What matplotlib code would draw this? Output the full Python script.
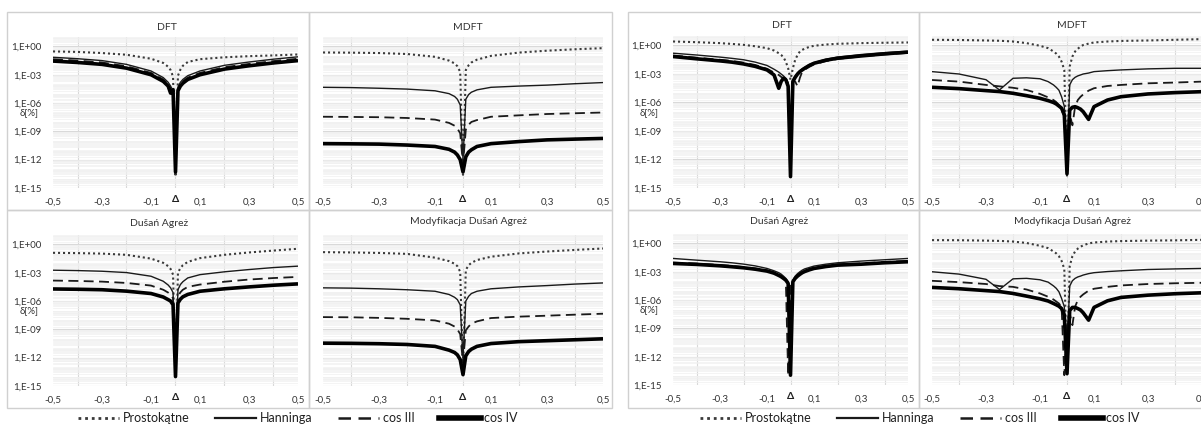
import numpy as np
import matplotlib
matplotlib.use("Agg")
import matplotlib.pyplot as plt
from matplotlib.lines import Line2D
from matplotlib.patches import Rectangle
from matplotlib.ticker import FixedLocator, NullFormatter

plt.rcParams['font.family'] = ['Lato', 'DejaVu Sans']

W, H = 1201, 426  # figure size in pixels

# Frequency offset (Δ) sample points
delta_left = [-0.5, -0.4, -0.3, -0.2, -0.1, -0.05, -0.03, -0.02, -0.01, 0.0,
              0.01, 0.02, 0.03, 0.05, 0.1, 0.2, 0.3, 0.4, 0.5]
delta_right = [-0.5, -0.4, -0.3, -0.25, -0.2, -0.15, -0.1, -0.07, -0.05, -0.04,
               -0.03, -0.02, -0.01, 0.0, 0.01, 0.02, 0.03, 0.04, 0.05, 0.06,
               0.08, 0.1, 0.15, 0.2, 0.3, 0.4, 0.5]

# log10 of δ[%], left block (a)
dft_a_rect = [-0.53, -0.58, -0.7, -0.88, -1.3, -1.75, -2.15, -2.5, -3.2, -13.8, -3.1, -2.45, -2.05, -1.65, -1.35, -1.15, -1.03, -0.95, -0.85]
dft_a_hann = [-1.15, -1.3, -1.5, -1.9, -2.6, -3.3, -3.8, -4.2, -4.7, -12.5, -4.3, -3.8, -3.5, -3.1, -2.6, -2.0, -1.65, -1.35, -1.1]
dft_a_cos3 = [-1.35, -1.5, -1.7, -2.1, -2.8, -3.5, -4.0, -4.4, -4.9, -12.0, -4.5, -4.0, -3.7, -3.3, -2.8, -2.2, -1.85, -1.55, -1.3]
dft_a_cos4 = [-1.55, -1.7, -1.9, -2.3, -3.0, -3.7, -4.2, -4.95, -4.6, -13.3, -4.7, -4.2, -3.9, -3.5, -3.0, -2.4, -2.05, -1.75, -1.5]

mdft_a_rect = [-0.64, -0.66, -0.7, -0.8, -1.1, -1.5, -1.8, -2.1, -2.7, -13.6, -2.5, -2.0, -1.7, -1.4, -1.0, -0.65, -0.45, -0.3, -0.18]
mdft_a_hann = [-4.33, -4.36, -4.43, -4.52, -4.7, -5.0, -5.3, -5.6, -6.2, -12.0, -5.6, -5.1, -4.85, -4.6, -4.33, -4.2, -4.1, -3.95, -3.83]
mdft_a_cos3 = [-7.45, -7.47, -7.5, -7.58, -7.75, -8.1, -8.4, -8.7, -9.2, -12.5, -8.8, -8.3, -8.0, -7.8, -7.45, -7.3, -7.16, -7.08, -7.0]
mdft_a_cos4 = [-10.3, -10.32, -10.35, -10.45, -10.6, -10.9, -11.2, -11.5, -12.0, -13.3, -11.7, -11.2, -10.95, -10.6, -10.3, -10.08, -9.9, -9.82, -9.75]

da_a_rect = [-0.89, -0.92, -0.97, -1.1, -1.5, -1.95, -2.3, -2.6, -3.2, -14.0, -3.0, -2.5, -2.2, -1.85, -1.45, -1.1, -0.85, -0.65, -0.46]
da_a_hann = [-2.73, -2.77, -2.84, -2.98, -3.37, -3.9, -4.3, -4.6, -5.1, -13.0, -4.8, -4.25, -3.95, -3.55, -3.2, -2.9, -2.66, -2.45, -2.3]
da_a_cos3 = [-3.83, -3.87, -3.94, -4.08, -4.36, -4.8, -5.1, -5.3, -5.7, -13.5, -5.5, -5.07, -4.8, -4.5, -4.25, -3.95, -3.72, -3.56, -3.44]
da_a_cos4 = [-4.72, -4.75, -4.8, -4.95, -5.2, -5.57, -5.85, -6.0, -6.4, -14.0, -6.2, -5.8, -5.55, -5.3, -4.96, -4.7, -4.5, -4.32, -4.18]

mda_a_rect = [-0.82, -0.85, -0.9, -1.0, -1.4, -1.77, -2.05, -2.3, -2.9, -13.7, -2.7, -2.2, -1.95, -1.65, -1.3, -0.95, -0.75, -0.58, -0.43]
mda_a_hann = [-4.6, -4.63, -4.7, -4.8, -4.96, -5.3, -5.6, -5.85, -6.4, -12.0, -6.0, -5.5, -5.2, -4.96, -4.7, -4.5, -4.36, -4.2, -4.08]
mda_a_cos3 = [-7.7, -7.72, -7.78, -7.88, -8.05, -8.4, -8.7, -9.0, -9.5, -12.5, -9.1, -8.7, -8.4, -8.15, -7.8, -7.65, -7.55, -7.44, -7.34]
mda_a_cos4 = [-10.46, -10.48, -10.52, -10.6, -10.8, -11.2, -11.45, -11.7, -12.2, -13.8, -11.8, -11.35, -11.1, -10.8, -10.5, -10.3, -10.2, -10.1, -10.0]

# log10 of δ[%], right block (b)
dft_b_rect = [0.42, 0.35, 0.25, 0.17, 0.07, -0.08, -0.28, -0.53, -0.81, -0.99, -1.23, -1.7, -2.4, -3.6, -2.4, -1.5, -1.0, -0.63, -0.46, -0.33, -0.15, -0.03, 0.1, 0.18, 0.25, 0.29, 0.32]
dft_b_hann = [-0.81, -1.0, -1.22, -1.35, -1.5, -1.75, -2.1, -2.5, -2.8, -3.0, -3.2, -3.45, -3.9, -12.5, -3.6, -3.2, -2.9, -2.65, -2.45, -2.3, -2.0, -1.8, -1.45, -1.22, -0.95, -0.75, -0.6]
dft_b_cos3 = [-1.05, -1.28, -1.5, -1.62, -1.8, -2.05, -2.45, -2.85, -3.1, -3.3, -3.45, -3.6, -3.9, -13.0, -3.75, -3.8, -4.3, -3.4, -2.75, -2.55, -2.25, -2.0, -1.65, -1.42, -1.15, -0.95, -0.78]
dft_b_cos4 = [-1.16, -1.4, -1.62, -1.75, -1.94, -2.2, -2.57, -3.1, -4.5, -3.8, -3.45, -3.6, -4.3, -13.8, -3.8, -3.35, -3.0, -2.75, -2.57, -2.4, -2.1, -1.87, -1.55, -1.34, -1.1, -0.88, -0.7]

mdft_b_rect = [0.6, 0.58, 0.53, 0.5, 0.42, 0.25, -0.03, -0.28, -0.63, -0.85, -1.16, -1.7, -2.57, -13.7, -2.2, -1.16, -0.63, -0.35, -0.1, 0.05, 0.2, 0.32, 0.42, 0.48, 0.53, 0.6, 0.67]
mdft_b_hann = [-2.75, -3.0, -3.6, -4.68, -3.45, -3.4, -3.5, -3.8, -4.15, -4.4, -4.7, -5.4, -6.4, -12.0, -4.15, -3.6, -3.35, -3.2, -3.1, -3.0, -2.9, -2.75, -2.65, -2.57, -2.46, -2.4, -2.4]
mdft_b_cos3 = [-3.63, -3.8, -4.15, -4.3, -4.45, -4.68, -5.1, -5.46, -5.74, -5.95, -6.27, -6.8, -7.5, -10.0, -7.2, -8.4, -6.44, -5.74, -5.4, -5.15, -4.75, -4.5, -4.26, -4.15, -3.98, -3.9, -3.8]
mdft_b_cos4 = [-4.4, -4.54, -4.75, -4.85, -5.03, -5.28, -5.56, -5.8, -6.0, -6.15, -6.37, -6.6, -7.3, -13.5, -6.8, -6.5, -6.44, -6.55, -6.7, -6.97, -7.78, -6.44, -5.74, -5.39, -5.1, -4.96, -4.86]

da_b_hann = [-1.59, -1.77, -1.94, -2.05, -2.19, -2.38, -2.65, -2.9, -3.1, -3.25, -3.46, -3.7, -4.06, -13.8, -3.9, -3.46, -3.2, -3.0, -2.83, -2.7, -2.55, -2.4, -2.2, -2.05, -1.87, -1.73, -1.59]
da_b_cos3 = [-2.03, -2.13, -2.28, -2.38, -2.5, -2.65, -2.85, -3.07, -3.3, -3.44, -3.62, -3.85, -13.96, -4.3, -4.0, -3.62, -3.38, -3.2, -3.02, -2.9, -2.72, -2.57, -2.37, -2.22, -2.12, -1.97, -1.86]
da_b_cos4 = [-2.12, -2.22, -2.37, -2.47, -2.58, -2.73, -2.93, -3.15, -3.39, -3.52, -3.7, -3.89, -4.24, -13.96, -4.06, -3.7, -3.46, -3.27, -3.1, -2.98, -2.8, -2.65, -2.45, -2.3, -2.2, -2.05, -1.94]
da_b_rect = list(da_b_cos4)  # hidden under cos IV in the picture

mda_b_rect = [0.35, 0.34, 0.3, 0.27, 0.2, 0.05, -0.25, -0.5, -0.85, -1.05, -1.35, -1.85, -2.7, -13.8, -2.4, -1.35, -0.85, -0.55, -0.35, -0.2, 0.0, 0.1, 0.2, 0.25, 0.3, 0.33, 0.38]
mda_b_hann = [-3.0, -3.25, -3.8, -4.88, -3.75, -3.7, -3.85, -4.1, -4.5, -4.75, -5.12, -5.83, -6.7, -11.0, -4.52, -3.95, -3.7, -3.55, -3.46, -3.35, -3.2, -3.1, -2.98, -2.9, -2.76, -2.7, -2.65]
mda_b_cos3 = [-3.96, -4.1, -4.3, -4.52, -4.6, -4.88, -5.3, -5.65, -5.94, -6.15, -6.36, -6.7, -13.96, -8.8, -7.4, -8.66, -6.7, -6.0, -5.65, -5.4, -5.0, -4.8, -4.6, -4.45, -4.3, -4.22, -4.17]
mda_b_cos4 = [-4.66, -4.8, -5.0, -5.1, -5.3, -5.58, -5.87, -6.1, -6.36, -6.5, -6.65, -6.9, -7.6, -13.8, -7.1, -6.78, -6.78, -6.9, -7.05, -7.35, -8.13, -6.78, -6.08, -5.72, -5.48, -5.33, -5.23]

series_names = ["Prostokątne", "Hanninga", "cos III", "cos IV"]
x_ticks = [-0.5, -0.3, -0.1, 0.1, 0.3, 0.5]
x_labels = ["-0,5", "-0,3", "-0,1", "0,1", "0,3", "0,5"]
y_ticks = [1e0, 1e-3, 1e-6, 1e-9, 1e-12, 1e-15]
y_labels = ["1,E+00", "1,E-03", "1,E-06", "1,E-09", "1,E-12", "1,E-15"]

styles = [
    dict(color="#3a3a3a", lw=1.5, linestyle=(0, (1, 1.4))),
    dict(color="#1a1a1a", lw=1.0, linestyle="-"),
    dict(color="#1a1a1a", lw=1.3, linestyle=(0, (5.5, 3))),
    dict(color="#000000", lw=2.6, linestyle="-"),
]
text_col = "#333333"
frame_col = "#d0d0d0"

fig = plt.figure(figsize=(W / 100, H / 100), dpi=100)


def px_axes(x0, y0, x1, y1):
    # plot area given in pixels from the top-left corner
    return fig.add_axes([x0 / W, 1 - y1 / H, (x1 - x0) / W, (y1 - y0) / H])


def frame(x0, y0, x1, y1):
    fig.add_artist(Rectangle((x0 / W, 1 - y1 / H), (x1 - x0) / W, (y1 - y0) / H,
                             transform=fig.transFigure, fill=False,
                             edgecolor=frame_col, lw=1.0))


def panel(box, title, title_xy, delta, curves, ylabels):
    ax = px_axes(*box)
    ax.set_yscale("log")
    ax.set_xlim(-0.5, 0.5)
    ax.set_ylim(1e-15, 1e1)
    for vals, st in zip(curves, styles):
        ax.plot(delta, np.power(10.0, vals), solid_capstyle="butt", **st)
    for s in ax.spines.values():
        s.set_visible(False)
    ax.xaxis.set_major_locator(FixedLocator(x_ticks))
    ax.set_xticklabels(x_labels)
    ax.xaxis.set_minor_locator(FixedLocator(np.arange(-0.5, 0.51, 0.1)))
    ax.yaxis.set_major_locator(FixedLocator(y_ticks))
    ax.yaxis.set_minor_locator(FixedLocator(
        [m * 10.0 ** e for e in range(-15, 1) for m in range(1, 10)]))
    ax.yaxis.set_minor_formatter(NullFormatter())
    if ylabels:
        ax.set_yticklabels(y_labels)
        ax.annotate("δ[%]", xy=(0, 10 ** -7.05), xycoords=("axes fraction", "data"),
                    xytext=(-14, 0), textcoords="offset pixels",
                    ha="right", va="center", fontsize=7, color=text_col)
    else:
        ax.set_yticklabels([])
    ax.tick_params(which="both", length=0, labelsize=7, colors=text_col, pad=7)
    ax.tick_params(axis="y", pad=8)
    ax.grid(which="minor", axis="y", color="#f0f0f0", lw=0.5)
    ax.grid(which="major", axis="y", color="#d9d9d9", lw=0.8)
    ax.grid(which="minor", axis="x", color="#d9d9d9", lw=0.8)
    ax.set_axisbelow(True)
    ax.annotate("Δ", xy=(0, 0), xycoords=("data", "axes fraction"), xytext=(0, -7),
                textcoords="offset pixels", ha="center", va="top",
                fontsize=7.5, color="#202020", fontweight="bold")
    fig.text(title_xy[0] / W, 1 - title_xy[1] / H, title, ha="center", va="center",
             fontsize=7.5, color=text_col)
    return ax


# left block
frame(7, 12, 309, 210)
frame(309, 12, 612, 210)
frame(7, 210, 309, 408)
frame(309, 210, 612, 408)
panel((53, 37, 298, 188), "DFT", (167, 27), delta_left,
      [dft_a_rect, dft_a_hann, dft_a_cos3, dft_a_cos4], True)
panel((323, 37, 603, 188), "MDFT", (468, 27), delta_left,
      [mdft_a_rect, mdft_a_hann, mdft_a_cos3, mdft_a_cos4], False)
panel((53, 235, 298, 386), "Dušań Agreż", (159, 223), delta_left,
      [da_a_rect, da_a_hann, da_a_cos3, da_a_cos4], True)
panel((323, 235, 603, 386), "Modyfikacja Dušań Agreż", (468, 222), delta_left,
      [mda_a_rect, mda_a_hann, mda_a_cos3, mda_a_cos4], False)

# right block (cut off at the right edge)
frame(628, 12, 919, 210)
frame(919, 12, 1230, 210)
frame(628, 210, 919, 408)
frame(919, 210, 1230, 408)
panel((673, 36, 908, 188), "DFT", (782, 25), delta_right,
      [dft_b_rect, dft_b_hann, dft_b_cos3, dft_b_cos4], True)
panel((932, 36, 1202, 188), "MDFT", (1072, 25), delta_right,
      [mdft_b_rect, mdft_b_hann, mdft_b_cos3, mdft_b_cos4], False)
panel((673, 234, 908, 385), "Dušań Agreż", (779, 222), delta_right,
      [da_b_rect, da_b_hann, da_b_cos3, da_b_cos4], True)
panel((932, 234, 1202, 385), "Modyfikacja Dušań Agreż", (1072, 221), delta_right,
      [mda_b_rect, mda_b_hann, mda_b_cos3, mda_b_cos4], False)

# legends
leg_styles = [
    dict(color="#3a3a3a", lw=2.0, linestyle=(0, (1, 1.4))),
    dict(color="#1a1a1a", lw=1.6, linestyle="-"),
    dict(color="#1a1a1a", lw=1.8, linestyle=(0, (5, 3))),
    dict(color="#000000", lw=4.0, linestyle="-"),
]
handles = [Line2D([], [], **st) for st in leg_styles]
for cx in (298, 920):
    fig.legend(handles, series_names, loc="center", bbox_to_anchor=(cx / W, 1 - 418 / H),
               ncol=4, frameon=False, fontsize=9, handlelength=3.3,
               handletextpad=0.3, columnspacing=2.0, labelcolor="#202020",
               borderpad=0, borderaxespad=0)

fig.savefig("out.png", dpi=100)
